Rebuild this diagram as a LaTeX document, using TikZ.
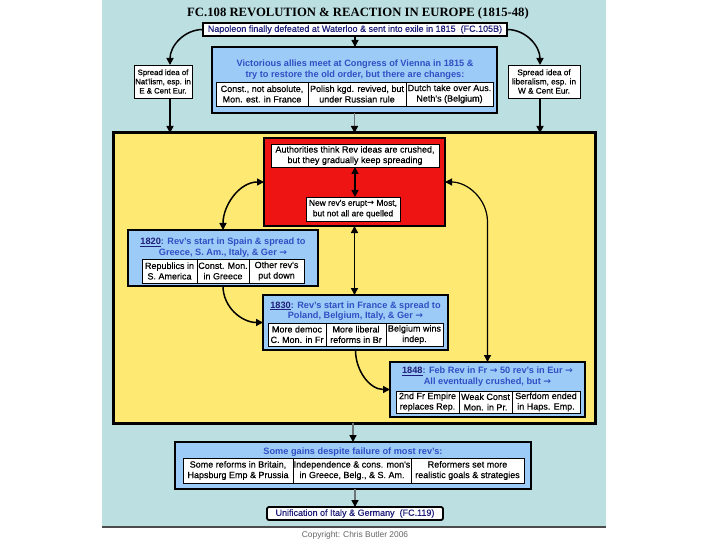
\documentclass[tikz,border=0pt]{standalone}
\usepackage{fontspec}
\setmainfont{Liberation Sans}
\newfontfamily\headserif{Liberation Serif}
\newfontfamily\cellface[FakeBold=0.5]{Liberation Sans}
\newfontfamily\arrface{DejaVu Sans Bold}
\usetikzlibrary{arrows.meta,calc}
\definecolor{tealbg}{HTML}{BCDFE2}
\definecolor{yelbg}{HTML}{FEE972}
\definecolor{bluebox}{HTML}{9DCBF7}
\definecolor{redbox}{HTML}{EE1414}
\definecolor{navytxt}{HTML}{1E1E7A}
\definecolor{bluetxt}{HTML}{2F4FC4}
\definecolor{linegray}{HTML}{6E7476}
\newcommand\cellfont{\cellface\fontsize{9}{10.5}\selectfont}
\newcommand\ttlfont{\bfseries\fontsize{9.2}{10.5}\selectfont}
\newcommand\rarr{{\arrface →}}
\tikzset{
  bx/.style={anchor=north west, inner sep=0pt, outer sep=0pt, align=center},
  cellbx/.style={bx, draw=black, line width=0.8pt, fill=white, font=\cellfont},
  bluebx/.style={bx, draw=black, line width=2.8pt, fill=bluebox},
  ttl/.style={inner sep=0pt, align=center, font=\ttlfont, text=bluetxt},
  arr/.style={line width=1.5pt, -{Triangle[length=7pt,width=7pt]}},
  dbl/.style={line width=1.5pt, {Triangle[length=7pt,width=7pt]}-{Triangle[length=7pt,width=7pt]}},
  grayarr/.style={draw=linegray, line width=1.5pt, -{Triangle[length=7pt,width=7pt,color=black]}}
}
\begin{document}
\begin{tikzpicture}[x=1pt,y=-1pt]
\useasboundingbox (0,0) rectangle (720,540);
\fill[white] (0,0) rectangle (720,540);
\fill[tealbg] (102,0) rectangle (606,527);
\draw[line width=1.5pt, draw=black!70] (102,527) -- (606,527);
\node[text=black!60, font=\fontsize{8.4}{10}\selectfont] (copy) at (355,535) {Copyright: Chris Butler 2006};

% title
\node[font=\headserif\bfseries\fontsize{12.7}{14}\selectfont] (title) at (358,13) {FC.108 REVOLUTION \& REACTION IN EUROPE (1815-48)};

% top row
\node[bx, draw=black, line width=1.5pt, fill=white, minimum width=304, minimum height=13, font=\cellfont, text=navytxt] (nap) at (203,23) {Napoleon finally defeated at Waterloo \& sent into exile in 1815\ \ (FC.105B)};
\node[cellbx, minimum width=58, minimum height=33, font=\cellface\fontsize{7.8}{9.2}\selectfont] (nat) at (134,65) {Spread idea of\\Nat'lism, esp. in\\E \& Cent Eur.};
\node[cellbx, minimum width=72, minimum height=33, font=\cellface\fontsize{8.2}{9.2}\selectfont] (lib) at (508,65) {Spread idea of\\liberalism, esp. in\\W \& Cent Eur.};

% Vienna
\node[bluebx, minimum width=285, minimum height=66] (vienna) at (212,47) {};
\node[ttl] (vtt) at (355,69.5) {Victorious allies meet at Congress of Vienna in 1815 \&\\try to restore the old order, but there are changes:};
\node[cellbx, minimum width=92, minimum height=24] (v1) at (216,82) {Const., not absolute,\\Mon. est. in France};
\node[cellbx, minimum width=98, minimum height=24] (v2) at (308,82) {Polish kgd. revived, but\\under Russian rule};
\node[cellbx, minimum width=87, minimum height=24] (v3) at (406,82) {Dutch take over Aus.\\Neth's (Belgium)};

% yellow
\node[bx, draw=black, line width=3pt, fill=yelbg, minimum width=482, minimum height=290] (yel) at (113,133) {};

% red
\node[bx, draw=black, line width=2pt, fill=redbox, minimum width=181, minimum height=88] (red) at (264,138) {};
\node[cellbx, minimum width=168, minimum height=23] (rt) at (271,144) {Authorities think Rev ideas are crushed,\\but they gradually keep spreading};
\node[cellbx, minimum width=94, minimum height=24, font=\cellface\fontsize{8.4}{10.5}\selectfont] (rb) at (306,197) {New rev's erupt\rarr\ Most,\\but not all are quelled};

% 1820
\node[bluebx, minimum width=190, minimum height=56] (b1820) at (128,230) {};
\node[ttl] (t1820) at (223,247.5) {{\color{navytxt}\underline{1820}}: Rev's start in Spain \& spread to\\Greece, S. Am., Italy, \& Ger \rarr};
\node[cellbx, minimum width=55, minimum height=24] (c11) at (142,259) {Republics in\\S. America};
\node[cellbx, minimum width=52, minimum height=24] (c12) at (197,259) {Const. Mon.\\in Greece};
\node[cellbx, minimum width=55, minimum height=24] (c13) at (249,259) {Other rev's\\put down};

% 1830
\node[bluebx, minimum width=185, minimum height=55] (b1830) at (263,295) {};
\node[ttl] (t1830) at (355.5,311) {{\color{navytxt}\underline{1830}}: Rev's start in France \& spread to\\Poland, Belgium, Italy, \& Ger \rarr};
\node[cellbx, minimum width=58, minimum height=23] (c21) at (268,323) {More democ\\C. Mon. in Fr};
\node[cellbx, minimum width=60, minimum height=23] (c22) at (326,323) {More liberal\\reforms in Br};
\node[cellbx, minimum width=57, minimum height=23] (c23) at (386,323) {Belgium wins\\indep.};

% 1848
\node[bluebx, minimum width=195, minimum height=55] (b1848) at (390,362) {};
\node[ttl] (t1848) at (487.5,376.5) {{\color{navytxt}\underline{1848}}: Feb Rev in Fr \rarr\ 50 rev's in Eur \rarr\\All eventually crushed, but \rarr};
\node[cellbx, minimum width=63, minimum height=22] (c31) at (396,391) {2nd Fr Empire\\replaces Rep.};
\node[cellbx, minimum width=53, minimum height=22] (c32) at (459,391) {Weak Const\\Mon. in Pr.};
\node[cellbx, minimum width=68, minimum height=22] (c33) at (512,391) {Serfdom ended\\in Haps. Emp.};

% gains
\node[bluebx, minimum width=356, minimum height=47] (gains) at (175,442) {};
\node[ttl] (tgains) at (353,452) {Some gains despite failure of most rev's:};
\node[cellbx, minimum width=110, minimum height=25] (g1) at (183,458) {Some reforms in Britain,\\Hapsburg Emp \& Prussia};
\node[cellbx, minimum width=118, minimum height=25] (g2) at (293,458) {Independence \& cons. mon's\\in Greece, Belg., \& S. Am.};
\node[cellbx, minimum width=113, minimum height=25] (g3) at (411,458) {Reformers set more\\realistic goals \& strategies};

% unification
\node[bx, draw=black, line width=1.8pt, rounded corners=2pt, fill=white, minimum width=176, minimum height=13, font=\cellfont, text=navytxt] (unif) at (267,507) {Unification of Italy \& Germany\ \ (FC.119)};

% connectors
\draw[arr] (nap.west) to[out=180,in=90] ([xshift=7pt]nat.north);
\draw[arr] (nap.east) to[out=0,in=90] ([xshift=-4pt]lib.north);
\draw[arr] (nap.south) -- (nap.south |- vienna.north);
\draw[arr] ([xshift=7pt]nat.south) -- ([xshift=7pt]nat.south |- yel.north);
\draw[grayarr] (vienna.south) -- (vienna.south |- yel.north);
\draw[arr] ([xshift=-4pt]lib.south) -- ([xshift=-4pt]lib.south |- yel.north);
\draw[dbl] (rt.south) -- (rt.south |- rb.north);
\draw[dbl] (red.west) to[out=180,in=90] (b1820.north);
\draw[dbl] (red.south) -- (red.south |- b1830.north);
\coordinate (bend) at ($(b1848.north)+(0,-140)$);
\draw[line width=1.2pt, {Triangle[length=7pt,width=7pt]}-{Triangle[length=7pt,width=7pt]}] (red.east) to[out=0,in=90] (bend) -- (b1848.north);
\draw[arr] (b1820.south) to[out=-90,in=180] (b1830.west);
\draw[arr] (b1830.south) to[out=-90,in=180] (b1848.west);
\draw[grayarr] (gains.north |- yel.south) -- (gains.north);
\draw[grayarr] (unif.north |- gains.south) -- (unif.north);
\end{tikzpicture}
\end{document}
